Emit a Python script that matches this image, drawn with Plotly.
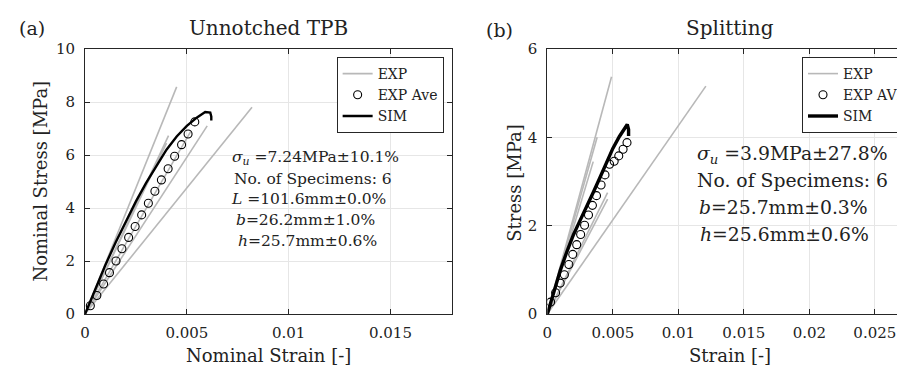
import plotly.graph_objects as go

# ---------------- data: panel (a) Unnotched TPB ----------------
exp_a_end_strain = [0.0045, 0.0041, 0.0040, 0.0052, 0.0060, 0.0082]
exp_a_end_stress = [8.57, 6.73, 6.45, 6.90, 7.10, 7.80]

ave_a_strain = [0.00026, 0.00058, 0.00091, 0.00120, 0.00152, 0.00181, 0.00214, 0.00246,
                0.00278, 0.00311, 0.00343, 0.00375, 0.00408, 0.00440, 0.00474, 0.00506, 0.00539]
ave_a_stress = [0.31, 0.70, 1.13, 1.56, 2.00, 2.46, 2.89, 3.30,
                3.74, 4.18, 4.63, 5.06, 5.48, 5.95, 6.39, 6.79, 7.25]

sim_a_strain = [0, 0.0005, 0.0010, 0.0015, 0.0020, 0.0025, 0.0030, 0.0035, 0.0040,
                0.0045, 0.0050, 0.0055, 0.0059, 0.00615, 0.0062, 0.0062]
sim_a_stress = [0, 0.95, 1.85, 2.70, 3.50, 4.25, 4.95, 5.60, 6.20,
                6.70, 7.10, 7.42, 7.62, 7.60, 7.45, 7.30]

# ---------------- data: panel (b) Splitting ----------------
exp_b_end_strain = [0.0049, 0.0038, 0.0035, 0.0046, 0.0046, 0.0121]
exp_b_end_stress = [5.37, 4.00, 3.45, 2.75, 2.60, 5.16]

ave_b_strain = [0.00025, 0.00063, 0.00098, 0.00130, 0.00164, 0.00194, 0.00224, 0.00254,
                0.00284, 0.00314, 0.00344, 0.00375, 0.00410, 0.00440, 0.00475, 0.00510,
                0.00545, 0.00578, 0.00608]
ave_b_stress = [0.27, 0.48, 0.70, 0.89, 1.12, 1.35, 1.57, 1.80,
                2.01, 2.24, 2.46, 2.68, 2.92, 3.15, 3.39, 3.46,
                3.58, 3.73, 3.88]

sim_b_strain = [0, 0.0005, 0.0010, 0.0015, 0.0020, 0.0025, 0.0030, 0.0035, 0.0040,
                0.0045, 0.0050, 0.0055, 0.0059, 0.0061, 0.0062, 0.0062]
sim_b_stress = [0, 0.52, 1.00, 1.42, 1.80, 2.12, 2.42, 2.75, 3.08,
                3.42, 3.75, 4.02, 4.22, 4.29, 4.18, 4.03]

xticks_a = [0, 0.005, 0.01, 0.015]
xticklabels_a = ["0", "0.005", "0.01", "0.015"]
yticks_a = [0, 2, 4, 6, 8, 10]
xticks_b = [0, 0.005, 0.01, 0.015, 0.02, 0.025]
xticklabels_b = ["0", "0.005", "0.01", "0.015", "0.02", "0.025"]
yticks_b = [0, 2, 4, 6]

text_a = ["<i>σ<sub>u</sub></i> =7.24MPa±10.1%", "No. of Specimens: 6",
          "<i>L</i> =101.6mm±0.0%", " <i>b</i>=26.2mm±1.0%", " <i>h</i>=25.7mm±0.6%"]
text_b = ["<i>σ<sub>u</sub></i> =3.9MPa±27.8%", "No. of Specimens: 6",
          "<i>b</i>=25.7mm±0.3%", "<i>h</i>=25.6mm±0.6%"]

W, H = 905, 366
FONT = "DejaVu Serif"
GRAY = "#b8b8b8"
AX = "#262626"
TXT = "#222222"

def px(x):
    return x / W

def py(y):
    return 1 - y / H

fig = go.Figure()

def add_panel(xa, ya, legend, exp_x, exp_y, ave_x, ave_y, sim_x, sim_y, ave_name, simw):
    for i, (ex, ey) in enumerate(zip(exp_x, exp_y)):
        fig.add_trace(go.Scatter(x=[0, ex], y=[0, ey], mode="lines",
                                 line=dict(color=GRAY, width=1.6),
                                 name="EXP", legendgroup=legend + "exp",
                                 showlegend=(i == 0), legend=legend,
                                 xaxis=xa, yaxis=ya))
    fig.add_trace(go.Scatter(x=ave_x, y=ave_y, mode="markers",
                             marker=dict(symbol="circle-open", size=8, color="black",
                                         line=dict(width=1.1, color="black")),
                             name=ave_name, legend=legend, xaxis=xa, yaxis=ya))
    fig.add_trace(go.Scatter(x=sim_x, y=sim_y, mode="lines",
                             line=dict(color="black", width=simw),
                             name="SIM", legend=legend, xaxis=xa, yaxis=ya))

add_panel("x", "y", "legend", exp_a_end_strain, exp_a_end_stress,
          ave_a_strain, ave_a_stress, sim_a_strain, sim_a_stress, "EXP Ave", 2.4)
add_panel("x2", "y2", "legend2", exp_b_end_strain, exp_b_end_stress,
          ave_b_strain, ave_b_stress, sim_b_strain, sim_b_stress, "EXP AVE", 3.4)

axis_common = dict(showline=True, linecolor=AX, linewidth=1, mirror="ticks",
                   ticks="inside", ticklen=5, tickcolor=AX, showgrid=True,
                   gridcolor="#e6e6e6", gridwidth=1, zeroline=False,
                   tickfont=dict(family=FONT, size=15, color=TXT),
                   automargin=False)

ydom = [py(306), py(41)]
fig.update_layout(
    xaxis=dict(domain=[px(78), px(449)], range=[0, 0.018], tickvals=xticks_a,
               ticktext=xticklabels_a, anchor="y", ticklabelstandoff=5, **axis_common),
    yaxis=dict(domain=ydom, range=[0, 10], tickvals=yticks_a, anchor="x",
               ticklabelstandoff=6, **axis_common),
    xaxis2=dict(domain=[px(546), 1.0], range=[0, (905 - 546) / 13260], tickvals=xticks_b,
                ticktext=xticklabels_b, anchor="y2", ticklabelstandoff=5, **axis_common),
    yaxis2=dict(domain=ydom, range=[0, 6], tickvals=yticks_b, anchor="x2",
                ticklabelstandoff=6, **axis_common),
    width=W, height=H,
    margin=dict(l=0, r=0, t=0, b=0),
    paper_bgcolor="white", plot_bgcolor="white",
    font=dict(family=FONT, color=TXT),
    legend=dict(x=px(441), xanchor="right", y=py(49), yanchor="top",
                bordercolor=AX, borderwidth=1, bgcolor="white",
                font=dict(family=FONT, size=14, color=TXT),
                itemwidth=30, tracegroupgap=0),
    legend2=dict(x=px(804), xanchor="left", y=py(49), yanchor="top",
                 bordercolor=AX, borderwidth=1, bgcolor="white",
                 font=dict(family=FONT, size=14, color=TXT),
                 itemwidth=30, tracegroupgap=0),
)

ann = []
def note(x, y, text, size, xanchor="center", angle=0):
    ann.append(dict(x=px(x), y=py(y), xref="paper", yref="paper", text=text,
                    showarrow=False, xanchor=xanchor, yanchor="middle",
                    textangle=angle, font=dict(family=FONT, size=size, color=TXT)))

note(264, 20, "Unnotched TPB", 20)
note(731, 20, "Splitting", 20)
note(24, 20, "(a)", 19)
note(498, 22, "(b)", 19)
note(264, 347, "Nominal Strain [-]", 18)
note(731, 347, "Strain [-]", 18)
note(32, 173, "Nominal Stress [MPa]", 18, angle=-90)
note(512, 175, "Stress [MPa]", 18, angle=-90)

ya_lines = [150, 171, 191, 212, 233]
xa_lines = [225, 227, 224, 224, 226]
for t, x, y in zip(text_a, xa_lines, ya_lines):
    note(x, y, t, 15.5, xanchor="left")
yb_lines = [147, 172, 199, 226]
xb_lines = [695, 695, 697, 698]
for t, x, y in zip(text_b, xb_lines, yb_lines):
    note(x, y, t, 18.8, xanchor="left")

fig.update_layout(annotations=ann)
fig.write_html("out.html")
